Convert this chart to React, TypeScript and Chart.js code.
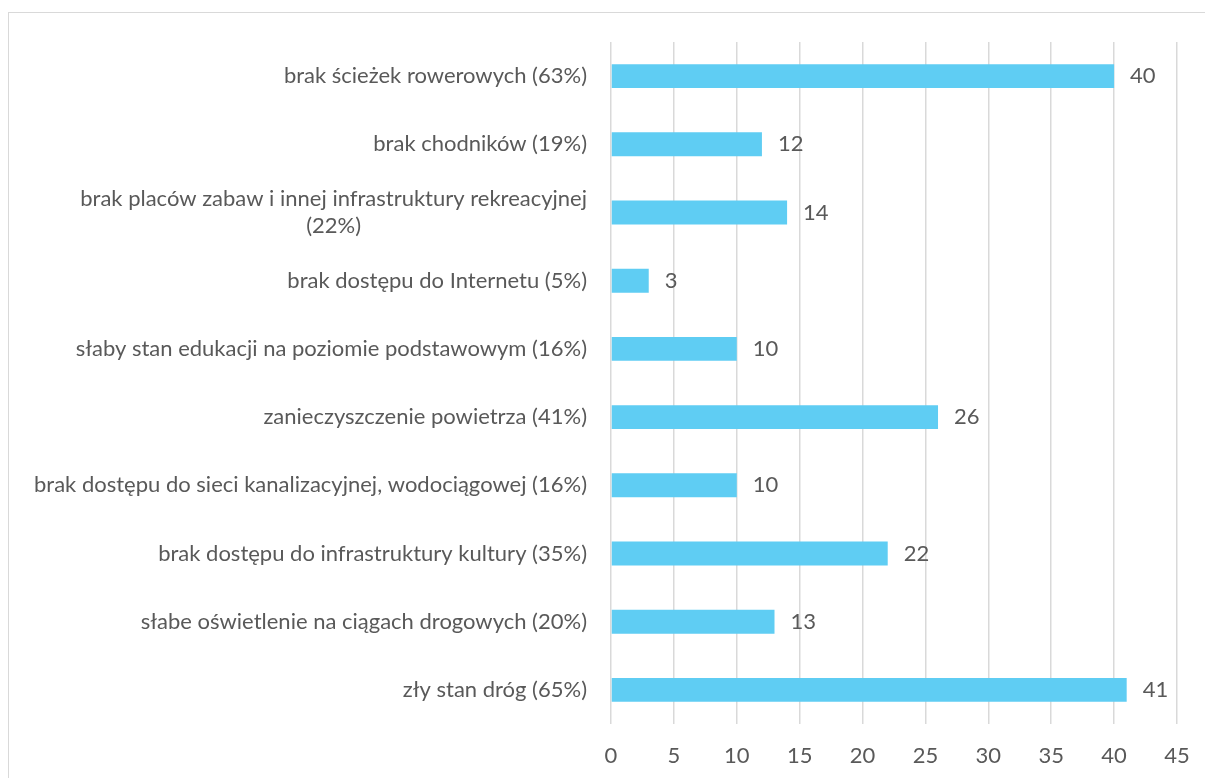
import React, { useEffect, useRef } from "react";
import { Chart, registerables } from "chart.js";

Chart.register(...registerables);

const categories: (string | string[])[] = [
  "brak ścieżek rowerowych (63%)",
  "brak chodników (19%)",
  ["brak placów zabaw i innej infrastruktury rekreacyjnej", "(22%)"],
  "brak dostępu do Internetu (5%)",
  "słaby stan edukacji na poziomie podstawowym (16%)",
  "zanieczyszczenie powietrza (41%)",
  "brak dostępu do sieci kanalizacyjnej, wodociągowej (16%)",
  "brak dostępu do infrastruktury kultury (35%)",
  "słabe oświetlenie na ciągach drogowych (20%)",
  "zły stan dróg (65%)",
];
const values: number[] = [40, 12, 14, 3, 10, 26, 10, 22, 13, 41];
const xMin = 0;
const xMax = 45;
const xStep = 5;

const FONT_FAMILY = "Lato, 'Open Sans', sans-serif";
const FONT_SIZE = 22;
const TEXT_COLOR = "#595959";
const BAR_COLOR = "#5FCDF3";
const GRID_COLOR = "#d9d9d9";

const labelsPlugin = {
  id: "customLabels",
  afterDraw(chart: any) {
    const ctx = chart.ctx;
    const yScale = chart.scales.y;
    const xScale = chart.scales.x;
    const area = chart.chartArea;
    ctx.save();
    ctx.font = `${FONT_SIZE}px ${FONT_FAMILY}`;
    ctx.fillStyle = TEXT_COLOR;
    ctx.textBaseline = "middle";
    const lineHeight = 27;
    const rightEdge = area.left - 24;
    categories.forEach((cat, i) => {
      const y = yScale.getPixelForTick(i);
      const lines = Array.isArray(cat) ? cat : [cat];
      const widest = Math.max(...lines.map((l) => ctx.measureText(l).width));
      const cx = rightEdge - widest / 2;
      ctx.textAlign = "center";
      const startY = y - ((lines.length - 1) * lineHeight) / 2;
      lines.forEach((l, j) => {
        ctx.fillText(l, cx, startY + j * lineHeight);
      });
    });
    ctx.textAlign = "left";
    const meta = chart.getDatasetMeta(0);
    meta.data.forEach((bar: any, i: number) => {
      const x = xScale.getPixelForValue(values[i]);
      ctx.fillText(String(values[i]), x + 16, bar.y);
    });
    ctx.restore();
  },
};

export default function App() {
  const ref = useRef<HTMLCanvasElement>(null);
  useEffect(() => {
    document.body.style.margin = "0";
    if (!ref.current) return;
    const chart = new Chart(ref.current, {
      type: "bar",
      data: {
        labels: categories.map((c) => (Array.isArray(c) ? c.join(" ") : c)),
        datasets: [
          {
            data: values,
            backgroundColor: BAR_COLOR,
            borderWidth: 0,
            categoryPercentage: 1,
            barPercentage: 0.35,
          },
        ],
      },
      options: {
        indexAxis: "y",
        responsive: false,
        animation: false,
        layout: { padding: { left: 0, top: 29, right: 28, bottom: 4 } },
        plugins: { legend: { display: false }, tooltip: { enabled: false } },
        scales: {
          x: {
            min: xMin,
            max: xMax,
            ticks: {
              stepSize: xStep,
              color: TEXT_COLOR,
              font: { family: FONT_FAMILY, size: FONT_SIZE },
              padding: 19,
            },
            grid: { color: GRID_COLOR, lineWidth: 1.5, drawTicks: false },
            border: { display: false },
            afterFit: (s: any) => {
              s.height = 50;
              s.paddingLeft = 0;
              s.paddingRight = 0;
            },
          },
          y: {
            ticks: { display: false },
            grid: { display: false },
            border: { display: false },
            afterFit: (s: any) => {
              s.width = 602;
              s.paddingTop = 0;
              s.paddingBottom = 0;
            },
          },
        },
      },
      plugins: [labelsPlugin],
    });
    return () => chart.destroy();
  }, []);
  return (
    <div style={{ width: 1205, height: 778, overflow: "hidden", position: "relative", background: "#fff" }}>
      <div
        style={{
          position: "absolute",
          left: 8,
          top: 12,
          width: 1197,
          height: 766,
          borderTop: "1px solid #d9d9d9",
          borderLeft: "1px solid #d9d9d9",
          boxSizing: "border-box",
        }}
      >
        <canvas ref={ref} width={1196} height={765} style={{ display: "block" }} />
      </div>
    </div>
  );
}
